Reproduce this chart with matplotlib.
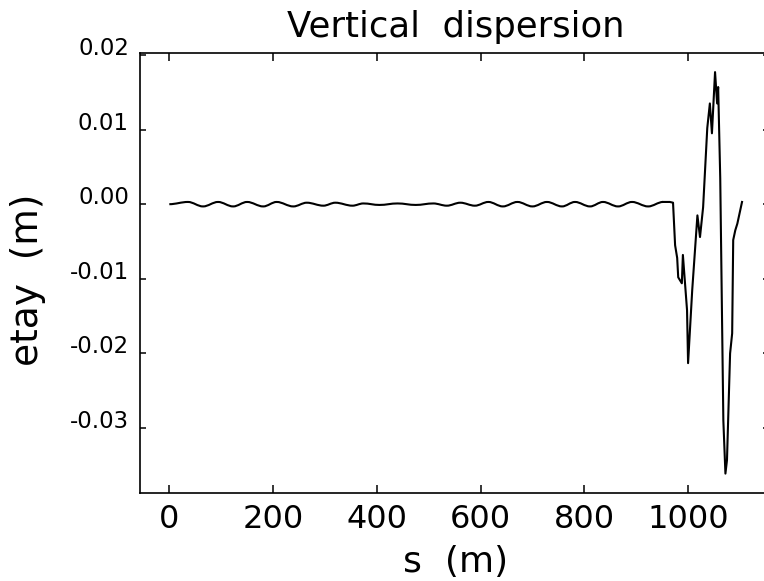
import matplotlib
matplotlib.use("Agg")
import matplotlib.pyplot as plt
from matplotlib.path import Path
from matplotlib.patches import PathPatch

# ---- data ----
# smooth low-amplitude oscillation: successive extremes (peaks / troughs)
flat_s = [0, 36, 65, 94, 123, 150, 181, 207, 239, 265, 297, 320, 353, 374,
          405, 440, 475, 509, 535, 561, 589, 615, 643, 671, 700, 728, 757,
          782, 811, 836, 865, 892, 923, 952]
flat_y = [0.0000, 0.0003, -0.0003, 0.0003, -0.0003, 0.0003, -0.0003,
          0.0003, -0.0003, 0.0002, -0.0002, 0.0002, -0.0002, 0.0001,
          -0.0001, 0.0001, -0.0001, 0.0001, -0.0002, 0.0002, -0.0002,
          0.0003, -0.0003, 0.0003, -0.0003, 0.0003, -0.0003, 0.0003,
          -0.0003, 0.0003, -0.0003, 0.0003, -0.0003, 0.0003]
# large excursion at the end of the line
tail_s = [952, 965, 971, 975, 979, 981, 988, 990, 998, 1000, 1008, 1018,
          1023, 1029, 1037, 1042, 1046, 1052, 1056, 1058, 1062, 1066, 1068,
          1072, 1075, 1081, 1085, 1087, 1091, 1095, 1104]
tail_y = [0.0003, 0.0003, 0.0002, -0.0055, -0.0072, -0.0098, -0.0106,
          -0.0068, -0.0142, -0.0213, -0.0115, -0.0015, -0.0044, -0.0004,
          0.0102, 0.0135, 0.0095, 0.0177, 0.0135, 0.0157, 0.0035, -0.0182,
          -0.0290, -0.0361, -0.0343, -0.0200, -0.0173, -0.0048, -0.0035,
          -0.0026, 0.0003]

x_ticks = [0, 200, 400, 600, 800, 1000]
y_ticks = [0.02, 0.01, 0.00, -0.01, -0.02, -0.03]
y_tick_labels = ["0.02", "0.01", "0.00", "-0.01", "-0.02", "-0.03"]

W, H = 764, 581
fig = plt.figure(figsize=(W / 100, H / 100), dpi=100)
plt.rcParams['font.family'] = ['DejaVu Sans']

left_px, right_px, top_px, bottom_px = 140, 769, 52.7, 493
ax = fig.add_axes([left_px / W, 1 - bottom_px / H,
                   (right_px - left_px) / W, (bottom_px - top_px) / H])

LW = 1.5
# smooth curve through the extremes (horizontal tangents at each extreme)
verts = [(flat_s[0], flat_y[0])]
codes = [Path.MOVETO]
for i in range(len(flat_s) - 1):
    x0, y0 = flat_s[i], flat_y[i]
    x1, y1 = flat_s[i + 1], flat_y[i + 1]
    d = (x1 - x0) * 0.36
    verts += [(x0 + d, y0), (x1 - d, y1), (x1, y1)]
    codes += [Path.CURVE4] * 3
ax.add_patch(PathPatch(Path(verts, codes), facecolor='none',
                       edgecolor='black', lw=LW))
ax.plot(tail_s, tail_y, color='black', lw=LW)

ax.set_xlim(-56.5, 1156)
ax.set_ylim(-0.0387, 0.0203)

ax.set_xticks(x_ticks)
ax.set_xticklabels([str(v) for v in x_ticks], fontsize=23)
ax.set_yticks(y_ticks)
ax.set_yticklabels(y_tick_labels, fontsize=16.5, va='baseline')

ax.tick_params(axis='x', which='major', direction='in', length=6, width=1.1,
               pad=8, top=True, bottom=True, labeltop=False)
ax.tick_params(axis='y', which='major', direction='in', length=4.5, width=1.1,
               pad=8, left=True, right=True, labelright=False)
for sp in ax.spines.values():
    sp.set_linewidth(1.2)

fig.text(456 / W, 1 - 37 / H, "Vertical  dispersion", fontsize=25.5,
         ha='center', va='baseline')
fig.text(456 / W, 9 / H, "s  (m)", fontsize=26, ha='center', va='baseline')
fig.text(28 / W, 1 - 280 / H, "etay  (m)", fontsize=27, ha='center',
         va='center', rotation=90)

fig.savefig("out.png", dpi=100)
